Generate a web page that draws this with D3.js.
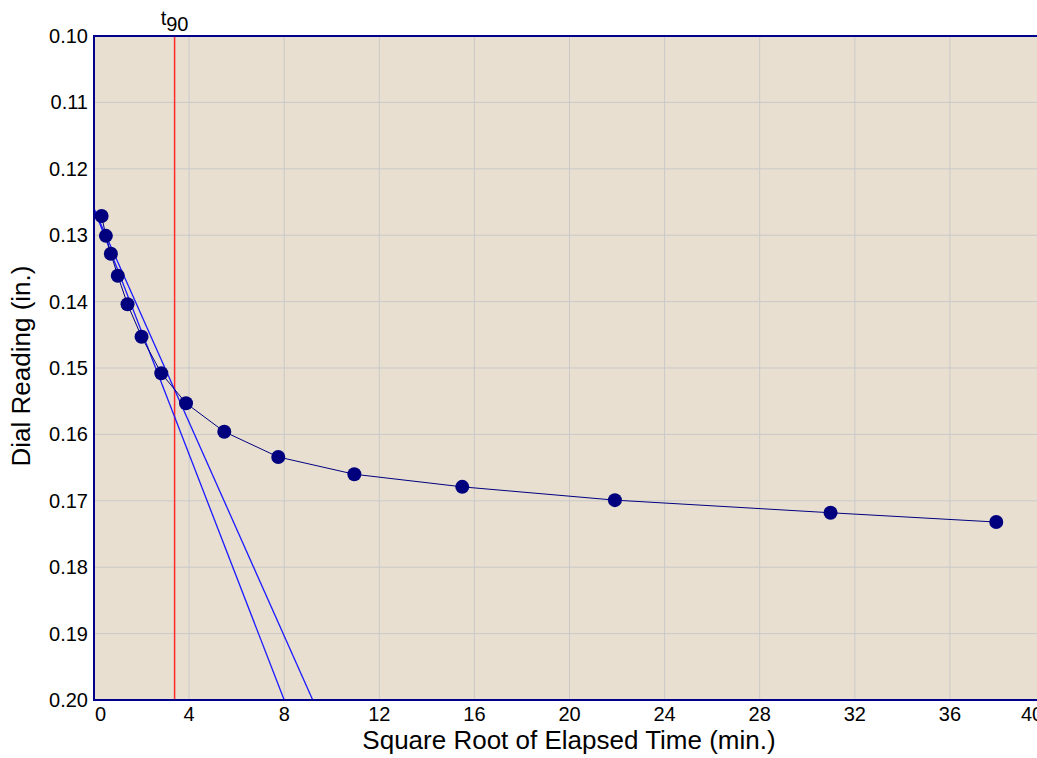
<!DOCTYPE html>
<html>
<head>
<meta charset="utf-8">
<script src="https://cdn.jsdelivr.net/npm/d3@7"></script>
<style>
  html, body { margin: 0; padding: 0; background: #fff; overflow: hidden; }
  svg { display: block; font-family: "Liberation Sans", Arial, sans-serif; }
</style>
</head>
<body>
<svg id="chart" width="1037" height="758"></svg>
<script>
// data
const sqrtTime = [0.32, 0.5, 0.71, 1, 1.41, 2, 2.83, 3.87, 5.48, 7.75, 10.95, 15.49, 21.91, 30.98, 37.95];
const dialReading = [0.1271, 0.1301, 0.1328, 0.1361, 0.1404, 0.1453, 0.1508, 0.1553, 0.1596, 0.1634, 0.1660, 0.1679, 0.1699, 0.1718, 0.1732];
// construction lines: [x, y] at the start and at the bottom edge
const fitLine = [[0, 0.1260], [8.0, 0.20]];
const offsetLine = [[0, 0.1260], [9.2, 0.20]];
const t90 = 3.39;
const xTicks = [0, 4, 8, 12, 16, 20, 24, 28, 32, 36, 40];
const yTicks = [0.10, 0.11, 0.12, 0.13, 0.14, 0.15, 0.16, 0.17, 0.18, 0.19, 0.20];

const svg = d3.select("#chart");
const plotL = 94, plotR = 1045, plotT = 36, plotB = 700;

const x = d3.scaleLinear().domain([0, 40]).range([plotL, plotR]);
const y = d3.scaleLinear().domain([0.10, 0.20]).range([plotT, plotB]);

// plot background
svg.append("rect")
  .attr("x", plotL).attr("y", plotT)
  .attr("width", plotR - plotL).attr("height", plotB - plotT)
  .attr("fill", "#e8dfd0");

// grid
svg.append("g")
  .selectAll("line")
  .data(xTicks.slice(1, -1))
  .join("line")
  .attr("x1", d => x(d)).attr("x2", d => x(d))
  .attr("y1", plotT).attr("y2", plotB)
  .attr("stroke", "#c9c9c9").attr("stroke-width", 1);
svg.append("g")
  .selectAll("line")
  .data(yTicks.slice(1, -1))
  .join("line")
  .attr("x1", plotL).attr("x2", plotR)
  .attr("y1", d => y(d)).attr("y2", d => y(d))
  .attr("stroke", "#c9c9c9").attr("stroke-width", 1);

// t90 marker
svg.append("line")
  .attr("x1", x(t90)).attr("x2", x(t90))
  .attr("y1", plotT).attr("y2", plotB)
  .attr("stroke", "#ff2a2a").attr("stroke-width", 1.5);

const t90Label = svg.append("text")
  .attr("x", x(t90)).attr("y", 25)
  .attr("text-anchor", "middle")
  .attr("font-size", 20)
  .attr("fill", "#000");
t90Label.append("tspan").text("t");
t90Label.append("tspan").attr("dy", 6).text("90");

// construction lines
const line = d3.line().x(d => x(d[0])).y(d => y(d[1]));
[fitLine, offsetLine].forEach(pts => {
  svg.append("path")
    .attr("d", line(pts))
    .attr("fill", "none")
    .attr("stroke", "#1a1aff")
    .attr("stroke-width", 1.3);
});

// data curve
const pts = sqrtTime.map((t, i) => [t, dialReading[i]]);
svg.append("path")
  .attr("d", line(pts))
  .attr("fill", "none")
  .attr("stroke", "#000080")
  .attr("stroke-width", 1);
svg.append("g")
  .selectAll("circle")
  .data(pts)
  .join("circle")
  .attr("cx", d => x(d[0]))
  .attr("cy", d => y(d[1]))
  .attr("r", 7)
  .attr("fill", "#00007f");

// frame
svg.append("path")
  .attr("d", `M${plotR},${plotT}H${plotL}V${plotB}H${plotR}`)
  .attr("fill", "none")
  .attr("stroke", "#00008b")
  .attr("stroke-width", 2);

// axes labels (end labels are pulled inwards like the original)
const lastX = xTicks[xTicks.length - 1];
svg.append("g")
  .selectAll("text")
  .data(xTicks)
  .join("text")
  .attr("x", d => d === 0 ? x(d) + 1 : d === lastX ? x(d) - 24 : x(d))
  .attr("y", 721)
  .attr("text-anchor", d => d === 0 || d === lastX ? "start" : "middle")
  .attr("font-size", 20)
  .text(d => d);

svg.append("g")
  .selectAll("text")
  .data(yTicks)
  .join("text")
  .attr("x", 88)
  .attr("y", d => y(d))
  .attr("dy", "0.35em")
  .attr("text-anchor", "end")
  .attr("font-size", 20)
  .text(d => d3.format(".2f")(d));

svg.append("text")
  .attr("x", 569).attr("y", 749)
  .attr("text-anchor", "middle")
  .attr("font-size", 26)
  .text("Square Root of Elapsed Time (min.)");

svg.append("text")
  .attr("transform", "translate(30,366) rotate(-90)")
  .attr("text-anchor", "middle")
  .attr("font-size", 26)
  .text("Dial Reading (in.)");
</script>
</body>
</html>
